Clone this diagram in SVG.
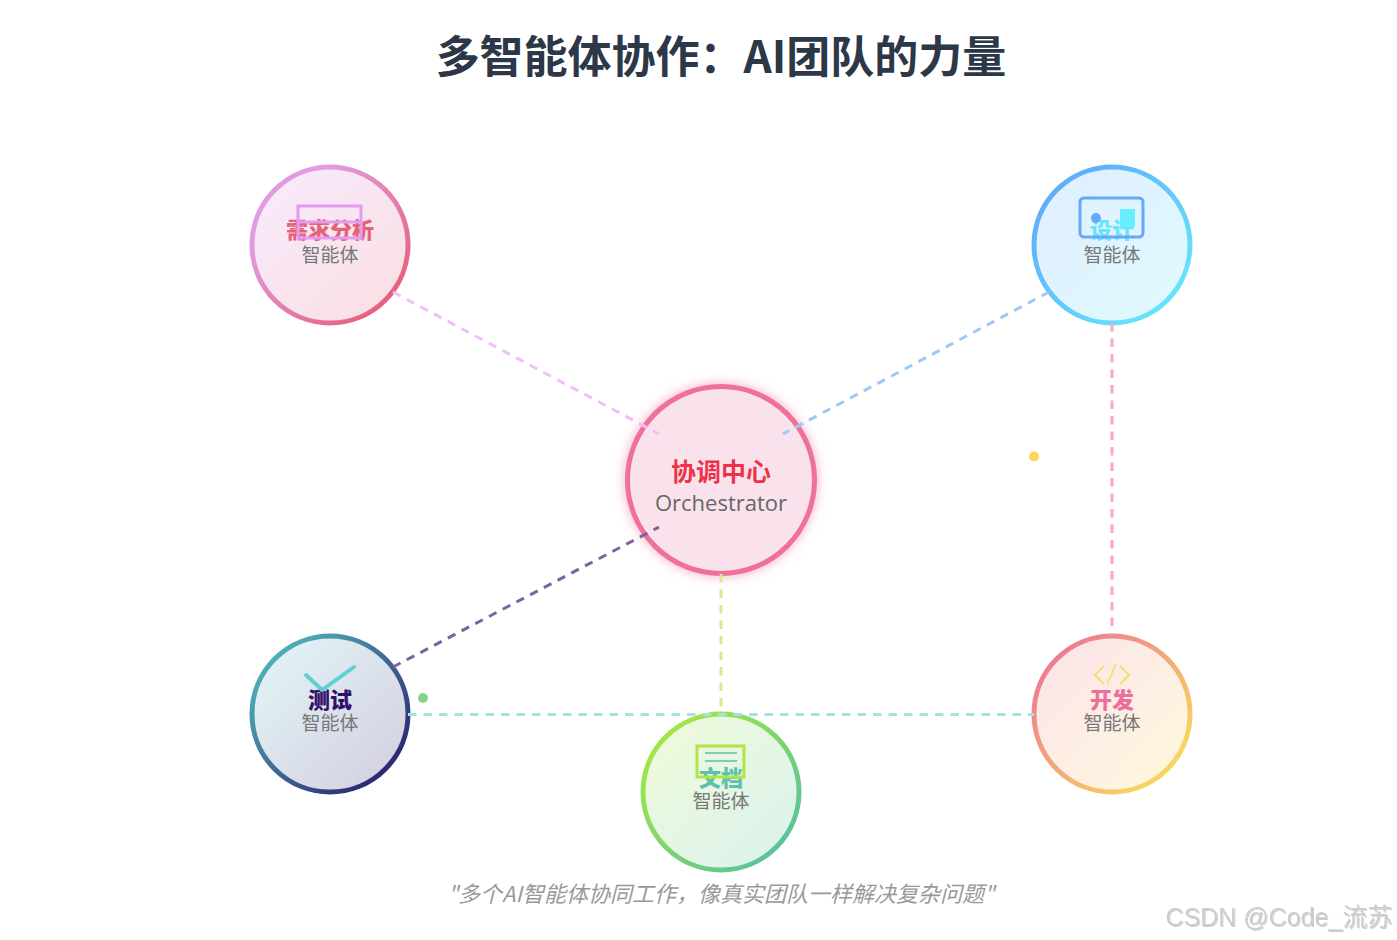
<svg xmlns="http://www.w3.org/2000/svg" width="1397" height="940" viewBox="0 0 1397 940">
<style>
text{font-family:"Noto Sans CJK SC","Noto Sans",sans-serif;text-anchor:middle}
.name{font-size:22px;font-weight:900}
.sub{font-size:19px;fill:#777}
.ln{fill:none;stroke-width:3;stroke-dasharray:8.500 7}
.c{stroke-width:5}
</style>
<defs>
<linearGradient id="g1" x1="0" y1="0" x2="1" y2="1"><stop offset="0.25" stop-color="#e29be0"/><stop offset="0.85" stop-color="#e6627f"/></linearGradient>
<linearGradient id="g2" x1="0" y1="0" x2="1" y2="1"><stop offset="0.15" stop-color="#60aef8"/><stop offset="0.85" stop-color="#66e3fd"/></linearGradient>
<linearGradient id="g3" x1="0" y1="0" x2="1" y2="1"><stop offset="0.15" stop-color="#4facb8"/><stop offset="0.85" stop-color="#2f2a72"/></linearGradient>
<linearGradient id="g4" x1="0" y1="0" x2="1" y2="1"><stop offset="0.15" stop-color="#a2e548"/><stop offset="0.85" stop-color="#5cc496"/></linearGradient>
<linearGradient id="g5" x1="0" y1="0" x2="1" y2="1"><stop offset="0.15" stop-color="#ec7f90"/><stop offset="0.85" stop-color="#f8d660"/></linearGradient>
<linearGradient id="f1" x1="0" y1="0" x2="1" y2="1"><stop offset="0.15" stop-color="#f9e9fa"/><stop offset="0.85" stop-color="#f9e0e5"/></linearGradient>
<linearGradient id="f2" x1="0" y1="0" x2="1" y2="1"><stop offset="0.15" stop-color="#dff0fe"/><stop offset="0.85" stop-color="#e0f8ff"/></linearGradient>
<linearGradient id="f3" x1="0" y1="0" x2="1" y2="1"><stop offset="0.15" stop-color="#e0f1f4"/><stop offset="0.85" stop-color="#d5d3e3"/></linearGradient>
<linearGradient id="f4" x1="0" y1="0" x2="1" y2="1"><stop offset="0.15" stop-color="#edf9db"/><stop offset="0.85" stop-color="#ddf3eb"/></linearGradient>
<linearGradient id="f5" x1="0" y1="0" x2="1" y2="1"><stop offset="0.15" stop-color="#fce6e8"/><stop offset="0.85" stop-color="#fef6df"/></linearGradient>
<filter id="glow" x="-20%" y="-20%" width="140%" height="140%"><feDropShadow dx="0" dy="0" stdDeviation="6" flood-color="#ef709b" flood-opacity="0.6"/></filter>
<filter id="wm" x="-5%" y="-20%" width="110%" height="140%"><feDropShadow dx="1" dy="1" stdDeviation="0.6" flood-color="#000" flood-opacity="0.2"/></filter>
</defs>
<rect width="1397" height="940" fill="#fff"/>
<text x="721" y="73" font-size="44" font-weight="700" fill="#2c3748">多智能体协作：AI团队的力量</text>

<g id="node-center">
<circle cx="721" cy="480" r="93.5" fill="#fae2ed" stroke="#ef7099" stroke-width="5" filter="url(#glow)"/>
<text x="721" y="481" font-size="25" font-weight="700" fill="#ee3249">协调中心</text>
<text x="721" y="511" font-size="22" fill="#666" style="font-family:'Open Sans','Noto Sans',sans-serif">Orchestrator</text>
</g>
<g id="node-analysis">
<circle class="c" cx="330" cy="245" r="78" fill="url(#f1)" stroke="url(#g1)"/>
<text class="name" x="330" y="238" fill="#e6627a">需求分析</text>
<text class="sub" x="330" y="262">智能体</text>
<g fill="none" stroke="#e29bf0" stroke-width="3"><rect x="298" y="206" width="63" height="32"/><path d="M298 222H361"/></g>
</g>
<g id="node-design">
<circle class="c" cx="1112" cy="245" r="78" fill="url(#f2)" stroke="url(#g2)"/>
<text class="name" x="1112" y="238" fill="#66e6fb">设计</text>
<text class="sub" x="1112" y="262">智能体</text>
<rect x="1080" y="198" width="63" height="39" rx="4" fill="none" stroke="#68a8fa" stroke-width="3"/>
<circle cx="1096" cy="218" r="5" fill="#68a8fa"/>
<rect x="1120" y="209" width="15" height="18" fill="#68eefc"/>
</g>
<g id="node-test">
<circle class="c" cx="330" cy="714" r="78" fill="url(#f3)" stroke="url(#g3)"/>
<text class="name" x="330" y="708" fill="#35106a">测试</text>
<text class="sub" x="330" y="730">智能体</text>
<path d="M306 675L322 690L354 667" fill="none" stroke="#5fcfd0" stroke-width="4" stroke-linecap="round" stroke-linejoin="round"/>
</g>
<g id="node-docs">
<circle class="c" cx="721" cy="792" r="78" fill="url(#f4)" stroke="url(#g4)"/>
<text class="name" x="721" y="786" fill="#5cc0ac">文档</text>
<text class="sub" x="721" y="808">智能体</text>
<rect x="697" y="746" width="47" height="31" fill="none" stroke="#b0e545" stroke-width="3"/>
<path d="M705 753H737M705 761H737" stroke="#5cc0ac" stroke-width="1.5" fill="none"/>
</g>
<g id="node-dev">
<circle class="c" cx="1112" cy="714" r="78" fill="url(#f5)" stroke="url(#g5)"/>
<text class="name" x="1112" y="708" fill="#ec6f9b">开发</text>
<text class="sub" x="1112" y="730">智能体</text>
<path d="M1104 666L1095 675L1104 684M1120 666L1129 675L1120 684M1116 664L1107 684" fill="none" stroke="#f9dd70" stroke-width="1.8"/>
</g>
<g id="connectors">
<path class="ln" stroke="#f0c0f8" d="M393 292L659 434"/>
<path class="ln" stroke="#9cc8fa" d="M1049 292L783 434"/>
<path class="ln" stroke="#7d62a0" d="M393 667L659 527"/>
<path class="ln" stroke="#d2ee8a" d="M721 574V714"/>
<path class="ln" stroke="#f8a8c2" d="M1112 323V635"/>
<path class="ln" stroke="#a6e0e0" d="M408 714.5H1034"/>
</g>
<circle cx="1034" cy="456.500" r="5" fill="#fdd55c"/>
<circle cx="423" cy="698" r="5" fill="#86d486"/>
<text x="721" y="902" font-size="22" font-style="italic" fill="#999">"多个AI智能体协同工作，像真实团队一样解决复杂问题"</text>
<text x="1279" y="926" font-size="25" fill="#ccc" filter="url(#wm)" style="font-family:'Liberation Sans','Noto Sans CJK SC',sans-serif">CSDN @Code_流苏</text>
</svg>
